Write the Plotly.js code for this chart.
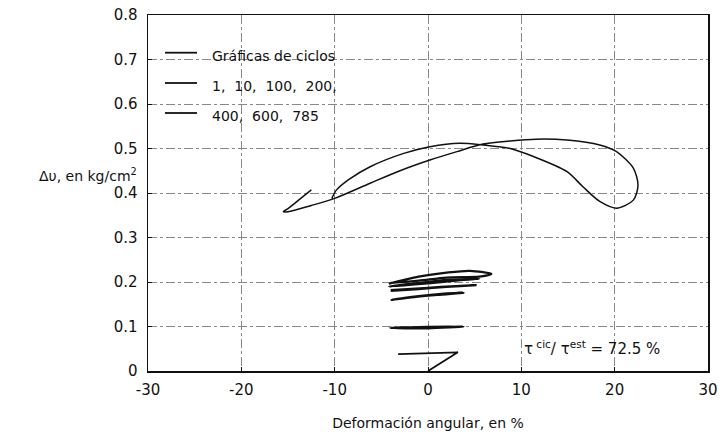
<!DOCTYPE html>
<html><head><meta charset="utf-8">
<script src="https://cdn.plot.ly/plotly-3.0.1.min.js"></script>
<style>html,body{margin:0;padding:0;background:#fff}#c{width:724px;height:434px}</style>
</head><body><div id="c"></div>
<script>
// Big hysteresis loop (deformación %, Δu kg/cm2)
const bigX = [-12.5,-13.8,-15.0,-15.5,-15.0,-12.5,-10.0,-6.2,-3.0,0.2,3.1,5.9,8.8,11.6,14.9,18.4,20.2,22.0,22.5,22.0,20.2,18.4,16.6,14.9,11.3,8.8,5.9,3.4,0.2,-2.6,-6.2,-8.5,-9.8,-10.3];
const bigY = [0.407,0.385,0.365,0.358,0.358,0.372,0.388,0.422,0.450,0.474,0.493,0.510,0.517,0.521,0.519,0.508,0.493,0.456,0.418,0.384,0.366,0.381,0.414,0.448,0.482,0.500,0.508,0.512,0.504,0.489,0.459,0.430,0.407,0.388];
// Small cycles
const c1X = [0, 3.2, -3.2];
const c1Y = [0, 0.042, 0.038];
const c10X = [-4.1, 0, 3.8, 0, -4.1];
const c10Y = [0.097, 0.099, 0.100, 0.096, 0.097];
const c100X = [-3.9, -1, 2, 3.8, 1, -2, -3.9];
const c100Y = [0.160, 0.168, 0.174, 0.176, 0.171, 0.165, 0.160];
const c200X = [-4, 0, 3, 5.2, 2, -1, -4];
const c200Y = [0.182, 0.187, 0.191, 0.193, 0.189, 0.184, 0.180];
const c400X = [-4.2, -1, 2, 5.5, 3, 0, -4.2];
const c400Y = [0.190, 0.198, 0.205, 0.207, 0.203, 0.197, 0.190];
const c600X = [-4.2, -1, 2, 4.5, 6.8, 5.5, 2, -1, -4];
const c600Y = [0.196, 0.212, 0.221, 0.225, 0.218, 0.212, 0.210, 0.203, 0.198];

const xTicks = [-30, -20, -10, 0, 10, 20, 30];
const xTickText = ["-30", "-20", "-10", "0", "10", "20", "30"];
const yTicks = [0, 0.1, 0.2, 0.3, 0.4, 0.5, 0.6, 0.7, 0.8];
const yTickText = ["0", "0.1", "0.2", "0.3", "0.4", "0.5", "0.6", "0.7", "0.8"];
const legendLines = ["Gráficas de ciclos", "1,  10,  100,  200,", "400,  600,  785"];

const FONT = "DejaVu Sans, Arial, sans-serif";
const ln = (w) => ({color: "#111", width: w, shape: "spline", smoothing: 0.8});
const traces = [
  {x: bigX, y: bigY, mode: "lines", line: ln(1.5)},
  {x: c1X, y: c1Y, mode: "lines", line: {color: "#111", width: 1.8}},
  {x: c10X, y: c10Y, mode: "lines", line: ln(2.4)},
  {x: c100X, y: c100Y, mode: "lines", line: ln(2.4)},
  {x: c200X, y: c200Y, mode: "lines", line: ln(2.2)},
  {x: c400X, y: c400Y, mode: "lines", line: ln(2.2)},
  {x: c600X, y: c600Y, mode: "lines", line: ln(2.2)}
];

const shapes = [];
const annotations = [];
const legY = [52.7, 83, 113];
legY.forEach((py, i) => {
  const yp = (434 - 63 - py) / (434 - 63 - 15);
  shapes.push({type: "line", xref: "paper", yref: "paper", x0: (165 - 148) / 560, x1: (197 - 148) / 560, y0: yp, y1: yp, line: {color: "#111", width: 1.8}});
  annotations.push({xref: "paper", yref: "paper", x: (210 - 148) / 560, y: yp, yshift: -3, xanchor: "left", yanchor: "middle", showarrow: false, text: legendLines[i], font: {family: FONT, size: 14, color: "#111"}});
});
annotations.push({xref: "paper", yref: "paper", x: (139 - 148) / 560, y: (371 - 175) / 356, xanchor: "right", yanchor: "middle", showarrow: false, text: "Δυ, en kg/cm<sup>2</sup>", font: {family: FONT, size: 14, color: "#111"}});
annotations.push({xref: "x", yref: "y", x: 10.1, y: 0.052, xanchor: "left", yanchor: "middle", showarrow: false, text: "τ<sup> cic</sup>/ τ<sup>est</sup> = 72.5 %", font: {family: FONT, size: 15, color: "#111"}});

const layout = {
  width: 724, height: 434,
  margin: {l: 148, r: 16, t: 15, b: 63},
  paper_bgcolor: "#fff", plot_bgcolor: "#fff",
  showlegend: false,
  font: {family: FONT, size: 15, color: "#111"},
  xaxis: {
    range: [-30, 30], tickvals: xTicks, ticktext: xTickText,
    showline: true, linecolor: "#111", linewidth: 1.5, mirror: true,
    ticks: "inside", ticklen: 4, tickcolor: "#111",
    showgrid: true, gridcolor: "#888", griddash: "dashdot", gridwidth: 1,
    zeroline: false, ticklabelstandoff: 4,
    tickfont: {family: FONT, size: 15, color: "#111"},
    title: {text: "Deformación angular, en %", font: {family: FONT, size: 14, color: "#111"}, standoff: 20}
  },
  yaxis: {
    range: [0, 0.8], tickvals: yTicks, ticktext: yTickText,
    showline: true, linecolor: "#111", linewidth: 1.5, mirror: true,
    ticks: "inside", ticklen: 4, tickcolor: "#111",
    showgrid: true, gridcolor: "#888", griddash: "dashdot", gridwidth: 1,
    zeroline: false, ticklabelstandoff: 6,
    tickfont: {family: FONT, size: 15, color: "#111"}
  },
  shapes: shapes,
  annotations: annotations
};
Plotly.newPlot("c", traces, layout, {staticPlot: true});
</script></body></html>
